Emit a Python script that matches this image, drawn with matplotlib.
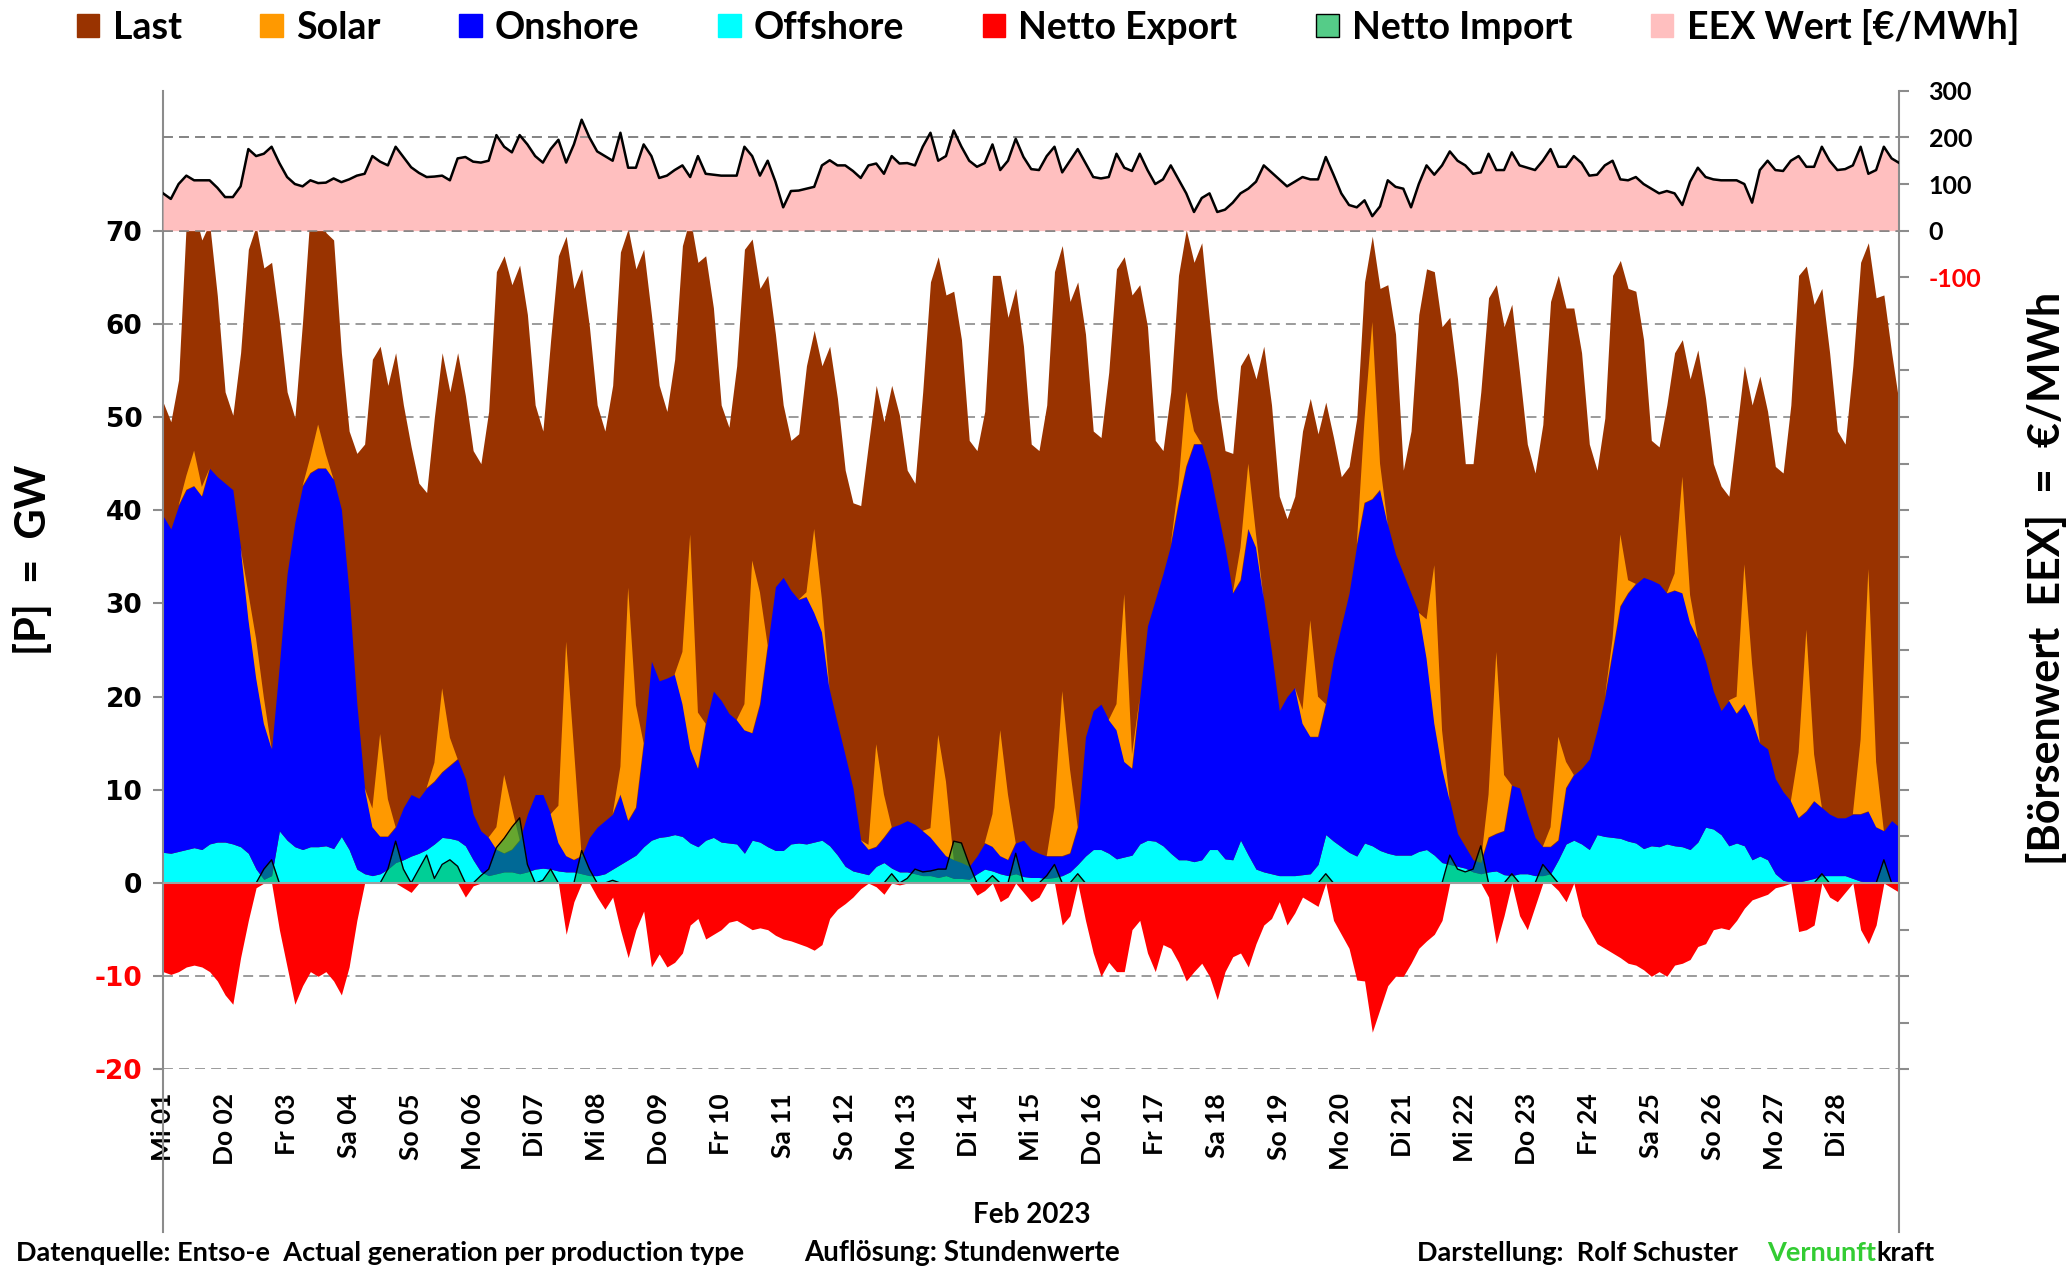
import numpy as np
import matplotlib
matplotlib.use("Agg")
import matplotlib.pyplot as plt
from matplotlib.patches import Patch

# Feb 2023, values every 3 hours (00,03,...,21 h), one row per day, last value = 28.02 24:00
# [GW]
offshore = [
    3.3, 3.2, 3.4, 3.6, 3.8, 3.6, 4.2, 4.4,
    4.4, 4.2, 3.9, 3.2, 1.5, 0.4, 0.8, 5.6,
    4.6, 3.9, 3.6, 3.9, 3.9, 4.0, 3.7, 5.0,
    3.6, 1.5, 1.0, 0.8, 1.0, 1.5, 2.2, 2.5,
    2.9, 3.2, 3.6, 4.2, 4.9, 4.8, 4.6, 4.0,
    2.5, 1.2, 0.8, 1.0, 1.2, 1.2, 1.0, 1.2,
    1.5, 1.6, 1.5, 1.3, 1.2, 1.2, 1.0, 0.8,
    0.8, 1.0, 1.5, 2.0, 2.5, 3.0, 3.9, 4.6,
    4.9, 5.0, 5.2, 5.0, 4.3, 3.9, 4.6, 4.9,
    4.4, 4.3, 4.2, 3.2, 4.6, 4.4, 3.9, 3.5,
    3.5, 4.2, 4.3, 4.2, 4.4, 4.6, 4.0, 3.0,
    1.8, 1.3, 1.1, 0.9, 1.8, 2.2, 1.6, 1.2,
    1.2, 1.0, 0.8, 0.8, 0.6, 0.8, 0.5, 0.5,
    0.4, 1.0, 1.5, 1.3, 1.0, 0.8, 1.0, 0.7,
    0.6, 0.6, 0.5, 0.6, 0.8, 1.2, 2.0, 2.9,
    3.6, 3.6, 3.2, 2.6, 2.8, 3.0, 4.2, 4.6,
    4.5, 4.0, 3.2, 2.5, 2.5, 2.3, 2.5, 3.6,
    3.6, 2.6, 2.5, 4.6, 3.0, 1.5, 1.2, 1.0,
    0.8, 0.8, 0.8, 0.9, 1.0, 2.0, 5.2, 4.5,
    3.9, 3.3, 2.9, 4.3, 4.0, 3.5, 3.2, 3.0,
    3.0, 3.0, 3.4, 3.6, 3.0, 2.2, 2.0, 1.8,
    1.6, 1.2, 1.0, 1.2, 1.3, 0.9, 0.8, 1.0,
    1.0, 0.8, 0.8, 1.0, 2.5, 4.2, 4.6, 4.2,
    3.6, 5.2, 5.0, 4.9, 4.8, 4.5, 4.3, 3.7,
    4.0, 3.9, 4.2, 4.0, 3.9, 3.6, 4.4, 6.0,
    5.8, 5.2, 4.0, 4.3, 4.0, 2.5, 2.9, 2.5,
    1.0, 0.3, 0.1, 0.1, 0.3, 0.5, 0.8, 0.8,
    0.8, 0.8, 0.5, 0.2, 0.1, 0.1, 0.1, 0.1,
    0.1]

onshore = [
    36.1, 34.8, 37.1, 38.6, 38.8, 37.9, 40.3, 39.2,
    38.5, 38.0, 32.1, 25.1, 20.5, 16.7, 13.6, 17.8,
    28.6, 34.8, 39.0, 40.1, 40.6, 40.5, 39.6, 35.1,
    27.5, 17.7, 9.2, 5.2, 4.0, 3.5, 3.8, 5.6,
    6.6, 5.9, 6.6, 6.7, 7.0, 7.8, 8.7, 7.2,
    4.9, 4.4, 4.1, 2.6, 2.0, 2.4, 3.6, 6.2,
    8.0, 7.9, 5.9, 3.0, 1.7, 1.3, 1.9, 4.1,
    5.2, 5.7, 5.9, 7.5, 4.2, 5.1, 11.1, 19.2,
    16.8, 17.0, 17.2, 14.2, 10.1, 8.4, 12.5, 15.7,
    15.2, 13.9, 13.3, 13.2, 11.5, 14.8, 21.6, 28.3,
    29.3, 27.2, 26.1, 26.5, 24.6, 22.3, 16.6, 14.1,
    11.9, 8.9, 3.5, 2.7, 2.1, 2.7, 4.4, 5.1,
    5.5, 5.3, 4.8, 4.1, 3.3, 2.1, 2.0, 1.7,
    1.4, 1.9, 2.8, 2.6, 1.9, 1.7, 3.3, 3.9,
    3.0, 2.6, 2.4, 2.3, 2.1, 2.0, 4.0, 12.8,
    14.9, 15.6, 14.3, 13.8, 10.2, 9.3, 15.7, 23.0,
    25.9, 29.2, 33.1, 38.3, 42.2, 44.8, 44.6, 40.7,
    36.5, 33.4, 28.6, 27.9, 35.0, 34.5, 29.2, 23.8,
    17.7, 19.2, 20.2, 16.2, 14.7, 13.7, 14.0, 19.6,
    23.7, 27.8, 33.4, 36.5, 37.2, 38.7, 35.2, 32.3,
    30.2, 28.1, 25.6, 20.5, 14.1, 10.1, 6.8, 3.5,
    2.3, 1.3, 1.2, 3.7, 4.0, 4.7, 9.7, 9.2,
    6.4, 4.1, 3.1, 2.9, 2.1, 6.0, 7.0, 8.1,
    9.7, 11.2, 14.9, 19.9, 24.9, 26.6, 27.8, 29.1,
    28.5, 28.2, 26.9, 27.4, 27.2, 24.3, 21.8, 17.8,
    14.8, 13.3, 15.6, 13.9, 15.2, 15.0, 12.1, 11.9,
    10.2, 9.5, 8.7, 6.9, 7.4, 8.3, 7.3, 6.6,
    6.2, 6.2, 6.9, 7.2, 7.6, 5.9, 5.5, 6.6,
    5.9]

solar = [
    0, 0, 0, 1.5, 3.8, 1.0, 0, 0,
    0, 0, 0, 2.8, 4.2, 2.8, 0, 0,
    0, 0, 0, 1.7, 4.7, 1.5, 0, 0,
    0, 0, 0, 2.0, 11.0, 4.0, 0, 0,
    0, 0, 0, 2.0, 9.0, 3.0, 0, 0,
    0, 0, 0, 2.4, 8.4, 4.5, 0, 0,
    0, 0, 0, 4.0, 23.0, 12.0, 0, 0,
    0, 0, 0, 3.0, 25.0, 11.0, 0, 0,
    0, 0, 0, 5.6, 23.0, 6.0, 0, 0,
    0, 0, 0, 2.8, 18.5, 12.0, 0, 0,
    0, 0, 0, 0.5, 9.0, 3.5, 0, 0,
    0, 0, 0, 0.5, 11.0, 4.6, 0, 0,
    0, 0, 0, 1.0, 12.0, 8.0, 0, 0,
    0, 0, 0, 3.5, 13.5, 7.0, 0, 0,
    0, 0, 0, 5.2, 17.7, 9.0, 0, 0,
    0, 0, 0, 2.8, 18.0, 1.5, 0, 0,
    0, 0, 0, 2.0, 8.0, 1.4, 0, 0,
    0, 0, 0, 3.5, 7.0, 1.4, 0, 0,
    0, 0, 0, 1.5, 12.5, 4.3, 0, 0,
    0, 0, 0, 9.0, 19.0, 2.8, 0, 0,
    0, 0, 0, 4.2, 17.0, 4.1, 0, 0,
    0, 0, 0, 4.6, 19.5, 6.0, 0, 0,
    0, 0, 0, 2.1, 11.1, 2.8, 0, 0,
    0, 0, 0, 1.4, 7.7, 1.4, 0, 0,
    0, 0, 0, 1.8, 12.5, 3.0, 0, 0,
    0, 0, 0, 1.8, 15.0, 6.0, 0, 0,
    0, 0, 0, 7.0, 19.5, 5.0, 0, 0,
    0, 0, 0, 8.0, 26.0, 7.0, 0, 0,
    0]

last = [
    51.6, 49.5, 54.0, 71.0, 72.2, 69.0, 70.8, 63.0,
    52.7, 50.2, 56.9, 68.0, 70.5, 66.0, 66.6, 60.3,
    52.7, 49.9, 60.3, 72.2, 74.6, 69.8, 69.0, 56.9,
    48.5, 46.1, 47.1, 56.2, 57.6, 53.4, 56.9, 51.3,
    46.8, 42.9, 41.9, 50.0, 56.9, 52.7, 56.9, 52.3,
    46.4, 45.0, 50.6, 65.6, 67.3, 64.2, 66.3, 61.0,
    51.3, 48.5, 58.3, 67.3, 69.4, 63.8, 65.9, 59.7,
    51.3, 48.5, 53.4, 67.7, 70.2, 65.9, 68.0, 61.0,
    53.4, 50.6, 56.2, 68.4, 71.4, 66.6, 67.3, 61.7,
    51.3, 48.9, 55.5, 68.0, 69.1, 63.8, 65.2, 58.9,
    51.3, 47.5, 48.2, 55.5, 59.3, 55.5, 57.6, 52.0,
    44.3, 40.8, 40.5, 47.1, 53.4, 49.5, 53.4, 50.2,
    44.3, 42.9, 52.7, 64.5, 67.2, 63.1, 63.5, 58.3,
    47.5, 46.4, 50.6, 65.2, 65.2, 60.7, 63.8, 57.6,
    47.1, 46.4, 51.3, 65.6, 68.4, 62.4, 64.5, 58.9,
    48.5, 47.8, 54.8, 65.9, 67.2, 63.1, 64.2, 59.7,
    47.5, 46.4, 52.7, 65.2, 70.1, 66.6, 68.7, 60.3,
    52.0, 46.4, 46.1, 55.5, 56.9, 54.1, 57.6, 51.3,
    41.5, 39.1, 41.5, 48.5, 52.0, 48.2, 51.6, 47.8,
    43.6, 44.7, 49.9, 64.5, 69.4, 63.8, 64.2, 58.9,
    44.3, 48.5, 61.0, 65.9, 65.6, 59.7, 60.7, 54.1,
    45.0, 45.0, 52.7, 62.8, 64.2, 59.7, 62.1, 54.8,
    47.1, 44.0, 49.2, 62.4, 65.2, 61.7, 61.7, 56.9,
    47.1, 44.3, 49.9, 65.2, 66.8, 63.8, 63.5, 58.3,
    47.5, 46.8, 51.3, 56.9, 58.3, 54.1, 57.2, 52.0,
    45.0, 42.6, 41.5, 48.5, 55.5, 51.3, 54.4, 50.6,
    44.7, 44.0, 51.3, 65.2, 66.2, 62.1, 63.8, 56.9,
    48.5, 47.1, 55.5, 66.6, 68.7, 62.8, 63.1, 56.9,
    51.3]

netto_export = [
    -9.5, -9.8, -9.5, -9.0, -8.8, -9.0, -9.5, -10.5,
    -12.0, -13.0, -8.0, -4.0, -0.5, 0, 0, -5.0,
    -9.0, -13.0, -11.0, -9.5, -10.0, -9.5, -10.5, -12.0,
    -9.0, -4.0, 0, 0, 0, 0, 0, -0.5,
    -1.0, 0, 0, 0, 0, 0, 0, -1.5,
    -0.3, 0, 0, 0, 0, 0, 0, 0,
    0, 0, 0, 0, -5.5, -2.0, 0, 0,
    -1.5, -2.8, -1.5, -5.0, -8.0, -5.0, -3.0, -9.0,
    -7.6, -9.0, -8.5, -7.5, -4.5, -3.8, -6.0, -5.5,
    -5.0, -4.2, -4.0, -4.5, -5.0, -4.8, -5.0, -5.6,
    -6.0, -6.2, -6.5, -6.8, -7.2, -6.6, -3.8, -2.8,
    -2.2, -1.5, -0.6, 0, -0.4, -1.2, 0, -0.2,
    0, 0, 0, 0, 0, 0, 0, 0,
    0, -1.3, -0.8, 0, -2.0, -1.5, 0, -1.0,
    -2.0, -1.5, 0, 0, -4.5, -3.5, 0, -4.0,
    -7.5, -10.0, -8.5, -9.5, -9.5, -5.0, -4.0, -7.5,
    -9.5, -6.6, -7.0, -8.5, -10.5, -9.5, -8.6, -10.0,
    -12.5, -9.5, -7.9, -7.5, -9.0, -6.5, -4.5, -3.8,
    -2.0, -4.5, -3.2, -1.5, -2.0, -2.5, 0, -4.0,
    -5.5, -7.0, -10.4, -10.5, -16.0, -13.5, -11.0, -10.0,
    -10.0, -8.6, -7.0, -6.2, -5.5, -4.0, 0, 0,
    0, 0, 0, -1.5, -6.5, -3.5, 0, -3.5,
    -5.0, -2.5, 0, 0, -0.8, -2.0, 0, -3.5,
    -5.0, -6.5, -7.0, -7.5, -8.0, -8.6, -8.8, -9.3,
    -10.0, -9.5, -10.0, -8.8, -8.6, -8.2, -6.8, -6.5,
    -5.0, -4.8, -5.0, -4.0, -2.7, -1.8, -1.5, -1.2,
    -0.5, -0.3, 0, -5.2, -5.0, -4.5, 0, -1.5,
    -2.0, -1.0, 0, -5.0, -6.5, -4.5, 0, -0.5,
    -1.0]

netto_import = [
    0, 0, 0, 0, 0, 0, 0, 0,
    0, 0, 0, 0, 0, 1.5, 2.5, 0,
    0, 0, 0, 0, 0, 0, 0, 0,
    0, 0, 0, 0, 0, 1.5, 4.5, 1.5,
    0, 1.5, 3.0, 0.5, 2.0, 2.5, 1.8, 0,
    0, 0.8, 1.5, 3.8, 4.8, 6.0, 7.0, 2.0,
    0, 0.3, 1.5, 0, 0, 0, 3.5, 1.5,
    0, 0, 0.3, 0, 0, 0, 0, 0,
    0, 0, 0, 0, 0, 0, 0, 0,
    0, 0, 0, 0, 0, 0, 0, 0,
    0, 0, 0, 0, 0, 0, 0, 0,
    0, 0, 0, 0, 0, 0, 1.0, 0,
    0.5, 1.5, 1.2, 1.3, 1.5, 1.5, 4.5, 4.3,
    2.0, 0, 0, 0.8, 0, 0, 3.2, 0,
    0, 0, 0.8, 2.0, 0, 0, 1.0, 0,
    0, 0, 0, 0, 0, 0, 0, 0,
    0, 0, 0, 0, 0, 0, 0, 0,
    0, 0, 0, 0, 0, 0, 0, 0,
    0, 0, 0, 0, 0, 0, 1.0, 0,
    0, 0, 0, 0, 0, 0, 0, 0,
    0, 0, 0, 0, 0, 0, 3.0, 1.5,
    1.2, 1.5, 4.0, 0, 0, 0, 1.0, 0,
    0, 0, 2.0, 1.0, 0, 0, 0, 0,
    0, 0, 0, 0, 0, 0, 0, 0,
    0, 0, 0, 0, 0, 0, 0, 0,
    0, 0, 0, 0, 0, 0, 0, 0,
    0, 0, 0, 0, 0, 0, 1.0, 0,
    0, 0, 0, 0, 0, 0, 2.5, 0,
    0]

# [EUR/MWh]
eex_wert = [
    80, 68, 100, 118, 108, 108, 108, 92,
    72, 72, 95, 175, 160, 165, 180, 145,
    115, 100, 95, 108, 102, 103, 112, 104,
    110, 118, 122, 160, 148, 140, 180, 158,
    136, 124, 115, 116, 118, 108, 155, 158,
    148, 146, 150, 205, 180, 168, 205, 185,
    160, 146, 175, 195, 146, 185, 238, 200,
    170, 160, 150, 210, 135, 135, 185, 160,
    113, 118, 130, 140, 115, 160, 122, 120,
    118, 118, 118, 180, 160, 118, 150, 105,
    50, 85, 86, 90, 94, 140, 151, 140,
    140, 128, 113, 140, 144, 122, 160, 144,
    145, 140, 180, 210, 150, 160, 215, 180,
    150, 137, 145, 185, 130, 150, 197, 158,
    132, 130, 160, 180, 125, 150, 175, 145,
    115, 112, 115, 165, 135, 128, 165, 130,
    100, 110, 140, 110, 80, 40, 70, 80,
    40, 45, 60, 80, 90, 105, 140, 125,
    110, 95, 105, 115, 110, 110, 158, 120,
    80, 55, 50, 65, 31, 52, 108, 94,
    90, 50, 100, 140, 120, 140, 170, 150,
    140, 122, 125, 165, 130, 130, 168, 140,
    135, 130, 150, 175, 137, 137, 160, 145,
    118, 120, 140, 150, 110, 108, 115, 100,
    90, 80, 85, 80, 55, 105, 135, 115,
    110, 108, 108, 108, 100, 60, 130, 150,
    130, 128, 150, 160, 137, 137, 180, 150,
    130, 132, 140, 180, 122, 130, 180, 155,
    145]

tage = ["Mi 01", "Do 02", "Fr 03", "Sa 04", "So 05", "Mo 06", "Di 07",
        "Mi 08", "Do 09", "Fr 10", "Sa 11", "So 12", "Mo 13", "Di 14",
        "Mi 15", "Do 16", "Fr 17", "Sa 18", "So 19", "Mo 20", "Di 21",
        "Mi 22", "Do 23", "Fr 24", "Sa 25", "So 26", "Mo 27", "Di 28"]

gw_ticks = [-20, -10, 0, 10, 20, 30, 40, 50, 60, 70]
eur_ticks = [300, 200, 100, 0, -100]

# colours
c_last = "#993300"
c_solar = "#FF9900"
c_on = "#0000FF"
c_off = "#00FFFF"
c_exp = "#FF0000"
c_imp = "#00B050"
c_eex = "#FFBFBF"
c_axis = "#8C8C8C"
c_grid = "#808080"

plt.rcParams["font.family"] = ["Lato", "DejaVu Sans"]
plt.rcParams["font.weight"] = "bold"

off = np.array(offshore)
on = np.array(onshore)
sol = np.array(solar)
load = np.array(last)
exp_ = np.array(netto_export)
imp = np.array(netto_import)
price = np.array(eex_wert)

t = np.arange(len(load)) * 3 / 24.0   # days since 01.02. 00:00
wind_top = off + on
sol_top = wind_top + sol

fig = plt.figure(figsize=(20.67, 12.72), dpi=100)
ax = fig.add_axes([0.0789, 0.1592, 0.8400, 0.7694])

# grid behind everything
dash = (0, (6.5, 4))
for v in range(-20, 81, 10):
    ax.axhline(v, color=c_grid, lw=1.1, ls=dash, zorder=0.5)

ax.fill_between(t, 0, load, color=c_last, lw=0, zorder=1)
ax.fill_between(t, 0, off, color=c_off, lw=0, zorder=2)
ax.fill_between(t, off, wind_top, color=c_on, lw=0, zorder=2)
ax.fill_between(t, wind_top, sol_top, where=sol_top > wind_top, interpolate=True,
                color=c_solar, lw=0, zorder=2)
ax.fill_between(t, exp_, 0, color=c_exp, lw=0, zorder=2)
ax.fill_between(t, 0, imp, color=c_imp, alpha=0.6, lw=0, zorder=3)
near = (imp > 0) | (np.roll(imp, 1) > 0) | (np.roll(imp, -1) > 0)
ax.plot(t, np.where(near, imp, np.nan), color="black", lw=1.0, zorder=4)
ax.axhline(0, color="#A0A0A0", lw=1.5, zorder=5)

ax.set_xlim(0, 28)
ax.set_ylim(-20, 85)

ax.set_xticks(np.arange(28))
ax.set_xticklabels(tage, rotation=90, fontsize=19, fontweight="bold")
ax.tick_params(axis="x", length=0, pad=17)

ax.set_yticks(gw_ticks)
ax.set_yticklabels([str(v) for v in gw_ticks], family="DejaVu Sans",
                   fontsize=19, fontweight="bold")
for lab, v in zip(ax.get_yticklabels(), gw_ticks):
    if v < 0:
        lab.set_color("red")
ax.tick_params(axis="y", direction="out", length=7, width=1.5, color=c_axis, pad=8)

for s in ["top", "bottom", "right"]:
    ax.spines[s].set_visible(False)
ax.spines["left"].set_color(c_axis)
ax.spines["left"].set_linewidth(1.5)

# price axis
ax2 = ax.twinx()
ax2.set_ylim(-1800, 300)
ax2.fill_between(t, 0, price, color=c_eex, lw=0, zorder=1)
ax2.axhline(0, color=c_grid, lw=1.1, ls=dash, zorder=2)
ax2.axhline(200, color=c_grid, lw=1.1, ls=dash, zorder=2)
ax2.plot(t, price, color="black", lw=1.8, zorder=3)
ax2.set_yticks(range(-1800, 301, 100))
ax2.set_yticklabels([str(v) if v in eur_ticks else "" for v in range(-1800, 301, 100)],
                    fontsize=18, fontweight="bold")
for lab, v in zip(ax2.get_yticklabels(), range(-1800, 301, 100)):
    if v < 0:
        lab.set_color("red")
ax2.tick_params(axis="y", direction="out", length=7, width=1.5, color=c_axis, pad=14)
for s in ["top", "bottom", "left"]:
    ax2.spines[s].set_visible(False)
ax2.spines["right"].set_color(c_axis)
ax2.spines["right"].set_linewidth(1.5)

# axis lines run down past the day labels
for xa in (0, 1):
    ax.plot([xa, xa], [0, -0.166], transform=ax.transAxes, color=c_axis,
            lw=1.5, clip_on=False)

fig.text(0.016, 0.56, "[P]  =  GW", rotation=90, ha="center", va="center",
         fontsize=30, fontweight="bold")
fig.text(0.990, 0.545, "[Börsenwert  EEX]  =  €/MWh", rotation=90, ha="center",
         va="center", fontsize=31, fontweight="bold")

handles = [Patch(facecolor=c_last, edgecolor=c_last),
           Patch(facecolor=c_solar, edgecolor=c_solar),
           Patch(facecolor=c_on, edgecolor=c_on),
           Patch(facecolor=c_off, edgecolor=c_off),
           Patch(facecolor=c_exp, edgecolor=c_exp),
           Patch(facecolor="#55CC88", edgecolor="black"),
           Patch(facecolor=c_eex, edgecolor=c_eex)]
labels = ["Last", "Solar", "Onshore", "Offshore", "Netto Export",
          "Netto Import", "EEX Wert [€/MWh]"]
fig.legend(handles, labels, ncol=7, loc="center", bbox_to_anchor=(0.507, 0.979),
           frameon=False, fontsize=27, handlelength=0.6, handleheight=0.6,
           handletextpad=0.35, columnspacing=2.1, borderaxespad=0)

fig.text(0.499, 0.045, "Feb 2023", ha="center", va="center", fontsize=20,
         fontweight="bold")
fy = 0.015
fig.text(0.0077, fy, "Datenquelle: Entso-e  Actual generation per production type",
         ha="left", va="center", fontsize=19.5, fontweight="bold")
fig.text(0.389, fy, "Auflösung: Stundenwerte", ha="left", va="center",
         fontsize=20, fontweight="bold")
fig.text(0.6855, fy, "Darstellung:  Rolf Schuster", ha="left", va="center",
         fontsize=19.5, fontweight="bold")
tv = fig.text(0.855, fy, "Vernunft", ha="left", va="center", fontsize=19.5,
              fontweight="bold", color="#33CC33")
fig.canvas.draw()
bb = tv.get_window_extent()
fig.text(bb.x1 / fig.bbox.width, fy, "kraft", ha="left", va="center",
         fontsize=19.5, fontweight="bold")

fig.savefig("out.png", dpi=100)
